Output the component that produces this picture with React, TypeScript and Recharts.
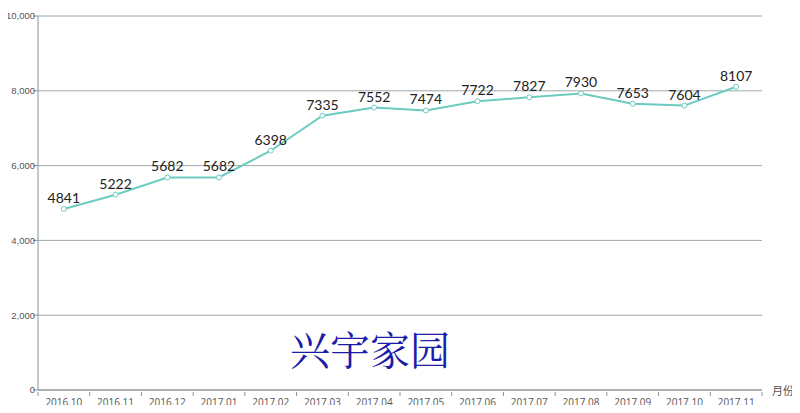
import React from "react";
import {
  CartesianGrid,
  ComposedChart,
  LabelList,
  Line,
  XAxis,
  YAxis,
} from "recharts";

const months = [
  "2016.10", "2016.11", "2016.12", "2017.01", "2017.02", "2017.03", "2017.04",
  "2017.05", "2017.06", "2017.07", "2017.08", "2017.09", "2017.10", "2017.11",
];
const prices = [4841, 5222, 5682, 5682, 6398, 7335, 7552, 7474, 7722, 7827, 7930, 7653, 7604, 8107];
const yTicks = [0, 2000, 4000, 6000, 8000, 10000];

const data = months.map((m, i) => ({ month: m, price: prices[i] }));

const AXIS = "#8a9493";
const LINE = "#6ccbc1";

// category tick: label centered in the band, tick marks on band edges
function MonthTick(props: any) {
  const { x, y, payload, index } = props;
  const off = payload.offset || 0;
  return (
    <g>
      <line x1={x - off} x2={x - off} y1={y - 6} y2={y - 2} stroke={AXIS} />
      {index === months.length - 1 && (
        <line x1={x + off} x2={x + off} y1={y - 6} y2={y - 2} stroke={AXIS} />
      )}
      <text x={x} y={y} dy="0.75em" textAnchor="middle" fontSize={10} fill="#555" fontFamily="'Open Sans', sans-serif">
        {payload.value}
      </text>
    </g>
  );
}

function ValueTick(props: any) {
  const { x, y, payload } = props;
  return (
    <text x={x + 3} y={y} dy="0.35em" textAnchor="end" fontSize={9.5} fill="#555" fontFamily="'Liberation Sans', sans-serif">
      {Number(payload.value).toLocaleString("en-US")}
    </text>
  );
}

export default function App() {
  return (
    <div style={{ position: "relative", width: 800, height: 413, margin: -8, overflow: "hidden", background: "#fff" }}>
      <ComposedChart width={800} height={413} data={data} margin={{ top: 16, right: 38, left: 0, bottom: 0 }}>
        <CartesianGrid stroke="#a0a8a7" vertical={false} />
        <XAxis
          dataKey="month"
          scale="band"
          height={23}
          stroke={AXIS}
          tickLine={false}
          tick={<MonthTick />}
          interval={0}
        />
        <YAxis
          width={38}
          domain={[0, 10000]}
          ticks={yTicks}
          stroke={AXIS}
          tickSize={5}
          tickMargin={1}
          tick={<ValueTick />}
        />
        <Line
          type="linear"
          dataKey="price"
          stroke={LINE}
          strokeWidth={2}
          dot={{ r: 2.5, fill: "#fff", stroke: LINE, strokeWidth: 1 }}
          isAnimationActive={false}
        >
          <LabelList
            dataKey="price"
            position="top"
            offset={6}
            style={{ fontSize: 14, fill: "#222", fontFamily: "Lato, sans-serif" }}
          />
        </Line>
      </ComposedChart>
      <div
        style={{
          position: "absolute",
          left: 772,
          top: 382,
          fontSize: 11,
          color: "#555",
          whiteSpace: "nowrap",
          fontFamily: "'Noto Sans CJK SC', sans-serif",
        }}
      >
        月份
      </div>
      <div
        style={{
          position: "absolute",
          left: 290,
          top: 324,
          fontSize: 40,
          color: "#1c1ca8",
          whiteSpace: "nowrap",
          lineHeight: "48px",
          fontFamily: "'Noto Serif CJK SC', 'Noto Sans CJK SC', serif",
        }}
      >
        兴宇家园
      </div>
    </div>
  );
}
